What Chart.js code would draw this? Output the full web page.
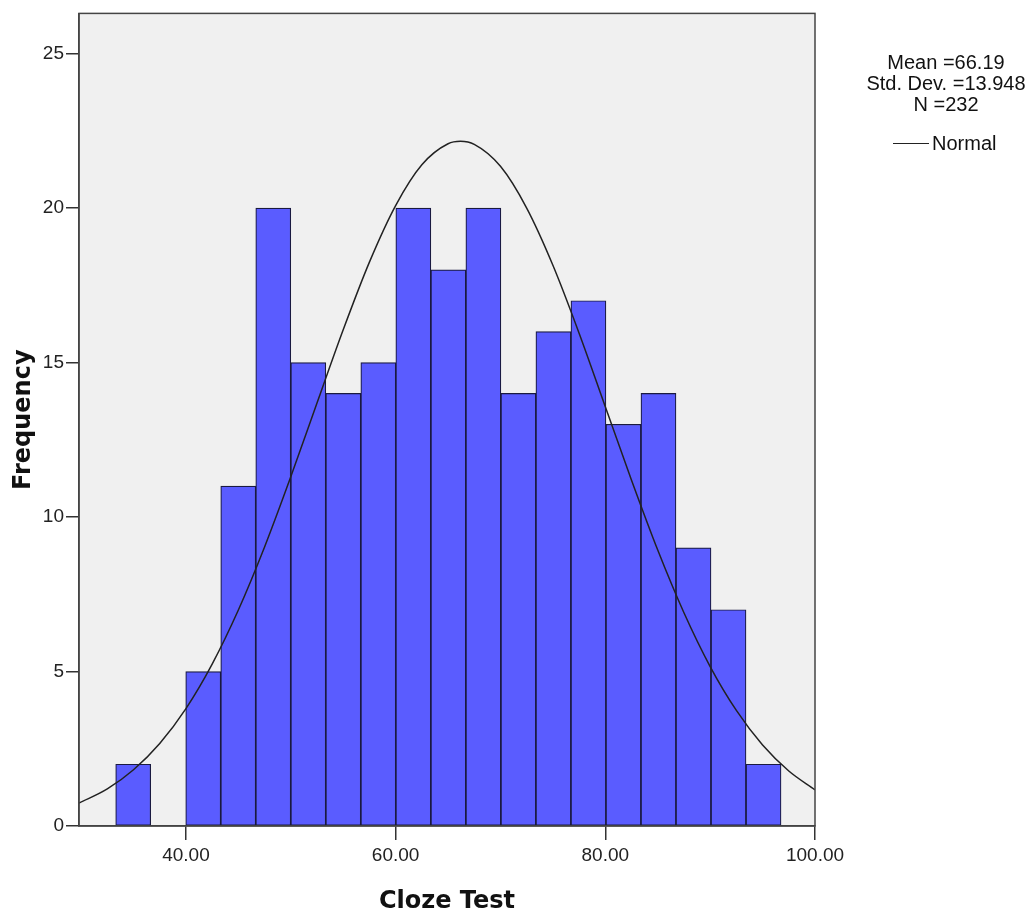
<!DOCTYPE html>
<html>
<head>
<meta charset="utf-8">
<script src="https://cdn.jsdelivr.net/npm/chart.js@4"></script>
<style>
  body { margin: 0; background: #fff; }
  #wrap { position: relative; width: 1030px; height: 916px; }
  .stats {
    position: absolute; left: 856px; top: 52px; width: 180px;
    font: 20px 'Liberation Sans', Arial, sans-serif;
    line-height: 21px; text-align: center; color: #111;
  }
  .normal {
    position: absolute; left: 893px; top: 131px; height: 24px;
    font: 20px 'Liberation Sans', Arial, sans-serif;
    color: #111; display: flex; align-items: center;
  }
  .normal span.line { display: inline-block; width: 36px; height: 0; border-top: 1.5px solid #222; margin-right: 3px; }
</style>
</head>
<body>
<div id="wrap">
  <canvas id="hist"></canvas>
  <div class="stats">Mean =66.19<br>Std. Dev. =13.948<br>N =232</div>
  <div class="normal"><span class="line"></span>Normal</div>
</div>
<script>
// bin midpoints (Cloze Test) and counts
const binMids = [34.97, 38.31, 41.65, 44.99, 48.33, 51.67, 55.01, 58.35, 61.69, 65.03,
                 68.37, 71.71, 75.05, 78.39, 81.73, 85.07, 88.41, 91.75, 95.09];
const counts  = [2, 0, 5, 11, 20, 15, 14, 15, 20, 18, 20, 14, 16, 17, 13, 14, 9, 7, 2];

// normal curve, read at regular steps along the x axis
const curveX = [29.8, 32.5, 35, 37.5, 40, 42.5, 45, 47.5, 50, 52.5, 55, 57.5, 60, 62.5, 65, 66.19,
                67.5, 70, 72.5, 75, 77.5, 80, 82.5, 85, 87.5, 90, 92.5, 95, 97.5, 100];
const curveY = [0.74, 1.2, 1.82, 2.67, 3.8, 5.24, 6.99, 9.03, 11.3, 13.69, 16.06, 18.25, 20.08, 21.4, 22.08, 22.16,
                22.06, 21.35, 20.0, 18.15, 15.95, 13.57, 11.19, 8.93, 6.9, 5.16, 3.74, 2.62, 1.78, 1.17];

const xTicks = [40, 60, 80, 100];
const yTicks = [0, 5, 10, 15, 20, 25];

const frame = {
  id: 'frame',
  beforeDraw(chart) {
    const { ctx, chartArea: a } = chart;
    ctx.save();
    ctx.fillStyle = '#f0f0f0';
    ctx.fillRect(a.left, a.top, a.right - a.left, a.bottom - a.top);
    ctx.restore();
  },
  afterDraw(chart) {
    const { ctx, chartArea: a } = chart;
    ctx.save();
    ctx.strokeStyle = '#444';
    ctx.lineWidth = 1.5;
    ctx.strokeRect(a.left, a.top, a.right - a.left, a.bottom - a.top);
    ctx.restore();
  }
};

const tickFont = { family: "'Liberation Sans', Arial", size: 19 };
const titleFont = { family: "'DejaVu Sans', Arial", size: 24, weight: 'bold' };

new Chart(document.getElementById('hist'), {
  data: {
    datasets: [{
      type: 'line',
      order: 0,
      data: curveX.map((x, i) => ({ x: x, y: curveY[i] })),
      borderColor: '#222',
      borderWidth: 1.5,
      pointRadius: 0,
      cubicInterpolationMode: 'monotone',
      fill: false
    }, {
      type: 'bar',
      order: 1,
      data: binMids.map((x, i) => ({ x: x, y: counts[i] || null })),
      backgroundColor: '#5a5cff',
      borderColor: '#1a1a40',
      borderWidth: 1.2,
      borderSkipped: false,
      barPercentage: 1,
      categoryPercentage: 1
    }]
  },
  options: {
    responsive: true,
    maintainAspectRatio: false,
    animation: false,
    layout: { padding: { top: 11, right: 215, left: 0, bottom: 0 } },
    plugins: { legend: { display: false }, tooltip: { enabled: false } },
    scales: {
      x: {
        type: 'linear',
        offset: false,
        min: 29.8,
        max: 100,
        afterBuildTicks: s => { s.ticks = xTicks.map(v => ({ value: v })); },
        afterFit: s => { s.height = 90; },
        ticks: { font: tickFont, color: '#222', padding: 4, maxRotation: 0,
                 callback: v => v.toFixed(2) },
        grid: { offset: false, drawOnChartArea: false, tickLength: 14, color: '#333', lineWidth: 1.5 },
        border: { color: '#444', width: 1.5 },
        title: { display: true, text: 'Cloze Test', font: titleFont, color: '#111',
                 padding: { top: 0, bottom: 0 } }
      },
      y: {
        min: 0,
        max: 26.3,
        afterBuildTicks: s => { s.ticks = yTicks.map(v => ({ value: v })); },
        afterFit: s => { s.width = 79; },
        ticks: { font: tickFont, color: '#222', padding: 2 },
        grid: { drawOnChartArea: false, tickLength: 13, color: '#333', lineWidth: 1.5 },
        border: { color: '#444', width: 1.5 },
        title: { display: true, text: 'Frequency', font: titleFont, color: '#111',
                 padding: { top: 9, bottom: 0 } }
      }
    }
  },
  plugins: [frame]
});
</script>
</body>
</html>
